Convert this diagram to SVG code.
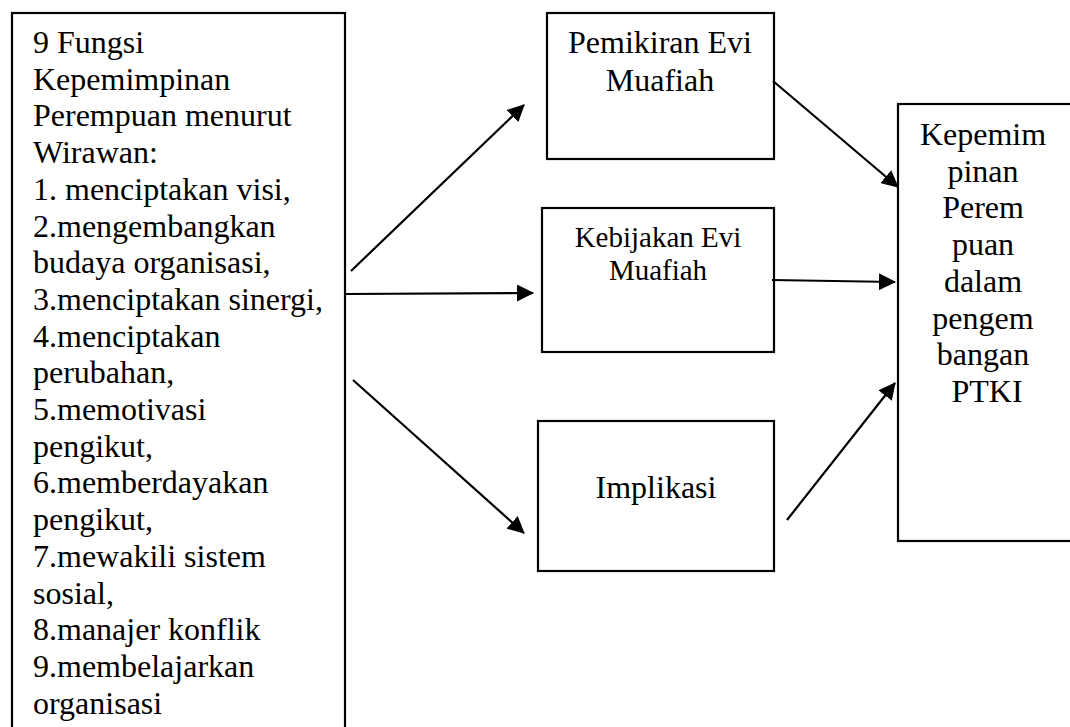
<svg xmlns="http://www.w3.org/2000/svg" width="1070" height="727" viewBox="0 0 1070 727">
<style>
.box{fill:#fff;stroke:#000;stroke-width:2.2}
.t{font-size:32px;fill:#000}
.c{text-anchor:middle}
.s{font-size:29px}
.ln{stroke:#000;stroke-width:2.2;fill:none;marker-end:url(#ah)}
</style>
<defs>
<marker id="ah" markerUnits="userSpaceOnUse" markerWidth="17" markerHeight="17" refX="16" refY="8.5" orient="auto" viewBox="0 0 17 17">
<path d="M0,0 L17,8.5 L0,17 z" fill="#000"/>
</marker>
</defs>
<rect width="1070" height="727" fill="#fff"/>
<g font-family="'Liberation Serif', 'Times New Roman', serif">
<g id="node-fungsi">
<rect class="box" x="12" y="13" width="333" height="740"/>
<text class="t" x="33" y="53">
<tspan x="33" y="53">9 Fungsi</tspan>
<tspan x="33" dy="36.7">Kepemimpinan</tspan>
<tspan x="33" dy="36.7">Perempuan menurut</tspan>
<tspan x="33" dy="36.7">Wirawan:</tspan>
<tspan x="33" dy="36.7">1. menciptakan visi,</tspan>
<tspan x="33" dy="36.7">2.mengembangkan</tspan>
<tspan x="33" dy="36.7">budaya organisasi,</tspan>
<tspan x="33" dy="36.7">3.menciptakan sinergi,</tspan>
<tspan x="33" dy="36.7">4.menciptakan</tspan>
<tspan x="33" dy="36.7">perubahan,</tspan>
<tspan x="33" dy="36.7">5.memotivasi</tspan>
<tspan x="33" dy="36.7">pengikut,</tspan>
<tspan x="33" dy="36.7">6.memberdayakan</tspan>
<tspan x="33" dy="36.7">pengikut,</tspan>
<tspan x="33" dy="36.7">7.mewakili sistem</tspan>
<tspan x="33" dy="36.7">sosial,</tspan>
<tspan x="33" dy="36.7">8.manajer konflik</tspan>
<tspan x="33" dy="36.7">9.membelajarkan</tspan>
<tspan x="33" dy="36.7">organisasi</tspan>
</text>
</g>
<g id="node-pemikiran">
<rect class="box" x="547" y="13" width="227" height="146"/>
<text class="t c" x="660" y="53">Pemikiran Evi</text>
<text class="t c" x="660" y="91">Muafiah</text>
</g>
<g id="node-kebijakan">
<rect class="box" x="542" y="208" width="232" height="144"/>
<text class="t c s" x="658" y="247">Kebijakan Evi</text>
<text class="t c s" x="658" y="280">Muafiah</text>
</g>
<g id="node-implikasi">
<rect class="box" x="538" y="421" width="236" height="150"/>
<text class="t c" x="656" y="498">Implikasi</text>
</g>
<g id="node-kepemimpinan">
<rect class="box" x="898" y="104" width="200" height="437"/>
<text class="t c" x="987" y="145">
<tspan x="987" y="145">Kepemim</tspan>
<tspan x="987" dy="36.7">pinan</tspan>
<tspan x="987" dy="36.7">Perem</tspan>
<tspan x="987" dy="36.7">puan</tspan>
<tspan x="987" dy="36.7">dalam</tspan>
<tspan x="987" dy="36.7">pengem</tspan>
<tspan x="987" dy="36.7">bangan</tspan>
<tspan x="987" dy="36.7">PTKI</tspan>
</text>
</g>
</g>
<g id="connectors">
<line class="ln" x1="351" y1="271" x2="524" y2="105"/>
<line class="ln" x1="346" y1="294" x2="533" y2="293"/>
<line class="ln" x1="353" y1="380" x2="524" y2="533"/>
<line class="ln" x1="773" y1="81" x2="898" y2="187"/>
<line class="ln" x1="772" y1="280" x2="895" y2="282"/>
<line class="ln" x1="787" y1="520" x2="895" y2="383"/>
</g>
</svg>
